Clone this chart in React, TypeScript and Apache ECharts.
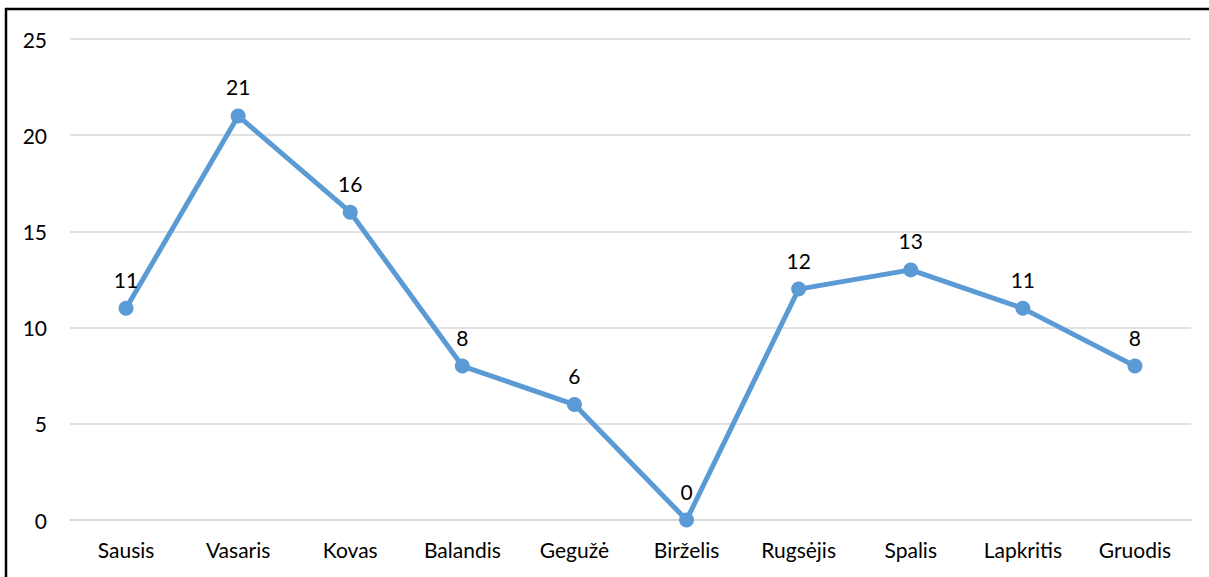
import React, { useEffect, useRef } from "react";
import * as echarts from "echarts";

const months = ["Sausis", "Vasaris", "Kovas", "Balandis", "Gegužė", "Birželis", "Rugsėjis", "Spalis", "Lapkritis", "Gruodis"];
const values = [11, 21, 16, 8, 6, 0, 12, 13, 11, 8];
const yTicks = { min: 0, max: 25, interval: 5 };

const FONT = "Lato, 'Open Sans', sans-serif";

export default function App() {
  const ref = useRef<HTMLDivElement>(null);
  useEffect(() => {
    document.body.style.margin = "0";
    const chart = echarts.init(ref.current!, null, { renderer: "svg" });
    chart.setOption({
      animation: false,
      backgroundColor: "#ffffff",
      grid: { left: 70, right: 18, top: 39, bottom: 57 },
      xAxis: {
        type: "category",
        data: months,
        boundaryGap: true,
        axisLine: { show: true, lineStyle: { color: "#d9d9d9", width: 2 } },
        axisTick: { show: false },
        axisLabel: { color: "#000", fontSize: 21, fontFamily: FONT, margin: 19, interval: 0 },
      },
      yAxis: {
        type: "value",
        min: yTicks.min,
        max: yTicks.max,
        interval: yTicks.interval,
        axisLine: { show: false },
        axisTick: { show: false },
        axisLabel: { color: "#000", fontSize: 21, fontFamily: FONT, margin: 23 },
        splitLine: { lineStyle: { color: "#d9d9d9", width: 1.5 } },
      },
      series: [
        {
          type: "line",
          data: values,
          symbol: "circle",
          symbolSize: 15,
          lineStyle: { color: "#5b9bd5", width: 5 },
          itemStyle: { color: "#5b9bd5" },
          label: { show: true, position: "top", distance: 11, color: "#000", fontSize: 21, fontFamily: FONT },
        },
      ],
      graphic: [
        { type: "line", shape: { x1: 5, y1: 9, x2: 1209, y2: 9 }, style: { stroke: "#000", lineWidth: 2.5 } },
        { type: "line", shape: { x1: 6, y1: 8, x2: 6, y2: 577 }, style: { stroke: "#000", lineWidth: 2.5 } },
      ],
    });
    return () => chart.dispose();
  }, []);
  return <div ref={ref} style={{ width: 1209, height: 577 }} />;
}
